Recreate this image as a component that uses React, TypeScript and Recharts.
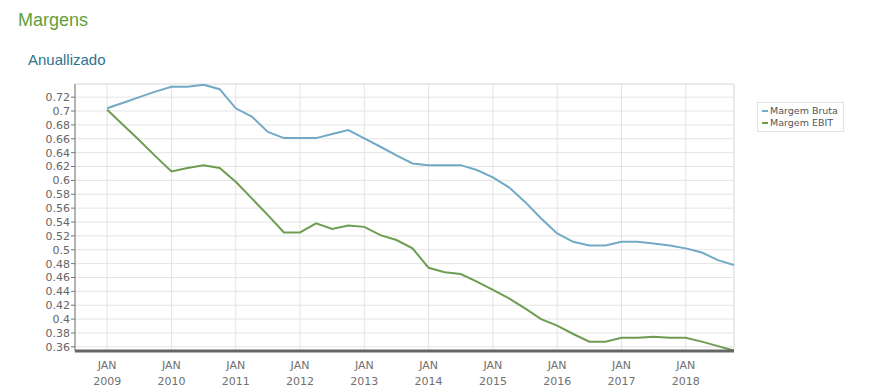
import {
  LineChart,
  Line,
  XAxis,
  YAxis,
  CartesianGrid,
  ReferenceLine,
} from "recharts";

// quarterly points, x = decimal year
const quarters = [
  2009, 2009.25, 2009.5, 2009.75, 2010, 2010.25, 2010.5, 2010.75, 2011, 2011.25,
  2011.5, 2011.75, 2012, 2012.25, 2012.5, 2012.75, 2013, 2013.25, 2013.5, 2013.75,
  2014, 2014.25, 2014.5, 2014.75, 2015, 2015.25, 2015.5, 2015.75, 2016, 2016.25,
  2016.5, 2016.75, 2017, 2017.25, 2017.5, 2017.75, 2018, 2018.25, 2018.5, 2018.75,
];

const margemBruta = [
  0.704, 0.712, 0.72, 0.728, 0.735, 0.735, 0.738, 0.7315, 0.704, 0.692,
  0.67, 0.661, 0.661, 0.661, 0.667, 0.6725, 0.6605, 0.6485, 0.636, 0.6245,
  0.622, 0.622, 0.622, 0.615, 0.6043, 0.59, 0.569, 0.545, 0.5236, 0.5115,
  0.506, 0.506, 0.5115, 0.5115, 0.509, 0.506, 0.502, 0.496, 0.485, 0.478,
];

const margemEbit = [
  0.702, 0.68, 0.658, 0.635, 0.613, 0.618, 0.622, 0.618, 0.598, 0.574,
  0.55, 0.525, 0.525, 0.538, 0.53, 0.535, 0.533, 0.521, 0.514, 0.502,
  0.474, 0.4675, 0.465, 0.454, 0.442, 0.43, 0.4155, 0.4, 0.3905, 0.3785,
  0.3675, 0.3675, 0.373, 0.373, 0.3745, 0.373, 0.373, 0.3675, 0.361, 0.3545,
];

const yearTicks = [2009, 2010, 2011, 2012, 2013, 2014, 2015, 2016, 2017, 2018];
const yTicks = [
  0.36, 0.38, 0.4, 0.42, 0.44, 0.46, 0.48, 0.5, 0.52, 0.54, 0.56, 0.58, 0.6,
  0.62, 0.64, 0.66, 0.68, 0.7, 0.72,
];

const data = quarters.map((t, i) => ({
  t,
  bruta: margemBruta[i],
  ebit: margemEbit[i],
}));

const BLUE = "#72a9c6";
const GREEN = "#6e9d52";
const TICK_FONT = "'DejaVu Sans', Verdana, sans-serif";

function YearTick(props: any) {
  const { x, y, payload } = props;
  return (
    <g transform={`translate(${x},${y})`}>
      <text x={0} y={10} textAnchor="middle" fill="#707070" fontSize={11} fontFamily={TICK_FONT}>
        JAN
      </text>
      <text x={0} y={26} textAnchor="middle" fill="#707070" fontSize={11} fontFamily={TICK_FONT}>
        {payload.value}
      </text>
    </g>
  );
}

function LegendBox() {
  const items = [
    { name: "Margem Bruta", color: BLUE },
    { name: "Margem EBIT", color: GREEN },
  ];
  return (
    <div
      style={{
        position: "absolute",
        left: 757,
        top: 102,
        border: "1px solid #e2e2e2",
        padding: "2px 5px 2px 4px",
        fontFamily: TICK_FONT,
        fontSize: 9.5,
        color: "#555",
        lineHeight: "12px",
        background: "#fff",
      }}
    >
      {items.map((it) => (
        <div key={it.name} style={{ display: "flex", alignItems: "center" }}>
          <span
            style={{
              display: "inline-block",
              width: 6,
              height: 2,
              background: it.color,
              marginRight: 2,
            }}
          />
          {it.name}
        </div>
      ))}
    </div>
  );
}

export default function App() {
  return (
    <div
      style={{
        position: "absolute",
        left: 0,
        top: 0,
        width: 883,
        height: 389,
        background: "#fff",
      }}
    >
      <div
        style={{
          position: "absolute",
          left: 18,
          top: 10,
          fontFamily: "'Liberation Sans', Arial, sans-serif",
          fontSize: 18,
          color: "#5fa03c",
        }}
      >
        Margens
      </div>
      <div
        style={{
          position: "absolute",
          left: 28,
          top: 51,
          fontFamily: "'Liberation Sans', Arial, sans-serif",
          fontSize: 15,
          color: "#2f7391",
        }}
      >
        Anuallizado
      </div>
      <div style={{ position: "absolute", left: 0, top: 0 }}>
        <LineChart
          width={883}
          height={389}
          data={data}
          margin={{ top: 84, right: 149, bottom: 0, left: 30 }}
        >
          <CartesianGrid stroke="#e4e4e4" />
          <ReferenceLine x={2018.75} stroke="#e4e4e4" />
          <ReferenceLine y={0.739} stroke="#e4e4e4" />
          <XAxis
            dataKey="t"
            type="number"
            domain={[2008.5, 2018.75]}
            ticks={yearTicks}
            interval={0}
            height={38}
            tickLine={false}
            axisLine={{ stroke: "#666", strokeWidth: 3 }}
            tick={<YearTick />}
            allowDataOverflow
          />
          <YAxis
            type="number"
            domain={[0.354, 0.739]}
            ticks={yTicks}
            interval={0}
            width={45}
            allowDataOverflow
            axisLine={{ stroke: "#777" }}
            tickLine={{ stroke: "#777" }}
            tickSize={4}
            tickMargin={1}
            tickFormatter={(v: number) => String(+v.toFixed(2))}
            tick={{ fill: "#666", fontSize: 11, fontFamily: TICK_FONT }}
          />
          <Line
            dataKey="bruta"
            name="Margem Bruta"
            stroke={BLUE}
            strokeWidth={2}
            dot={false}
            type="linear"
            isAnimationActive={false}
          />
          <Line
            dataKey="ebit"
            name="Margem EBIT"
            stroke={GREEN}
            strokeWidth={2}
            dot={false}
            type="linear"
            isAnimationActive={false}
          />
        </LineChart>
      </div>
      <LegendBox />
    </div>
  );
}
